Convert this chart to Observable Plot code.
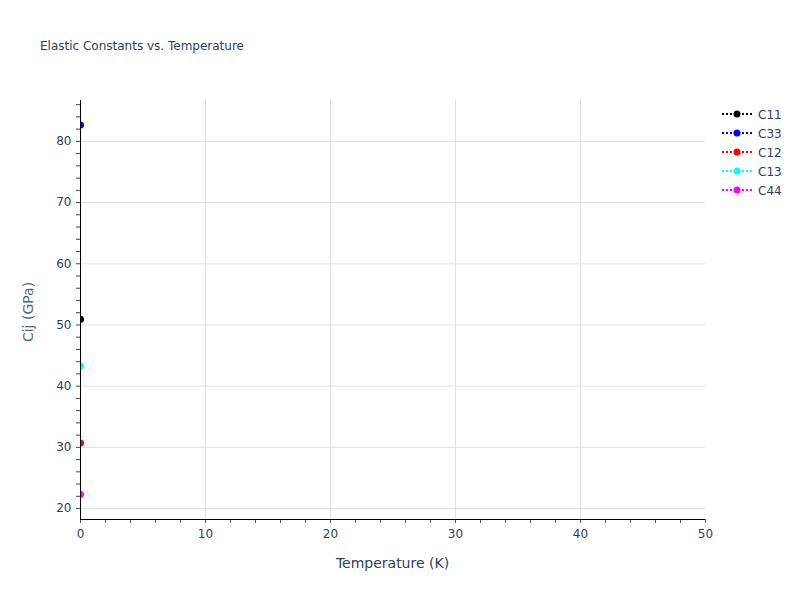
<!DOCTYPE html>
<html><head><meta charset="utf-8">
<script src="https://cdn.jsdelivr.net/npm/d3@7"></script>
<script src="https://cdn.jsdelivr.net/npm/@observablehq/plot@0.6"></script>
<style>body{margin:0;background:#fff;} #chart{width:800px;height:600px;}</style>
</head><body><div id="chart"></div>
<script>
const temperature = [0];
const seriesNames = ["C11", "C33", "C12", "C13", "C44"];
const seriesColors = ["#000000", "#0000ff", "#ff0000", "#00ffff", "#ff00ff"];
const C11 = [50.93];
const C33 = [82.66];
const C12 = [30.7];
const C13 = [43.31];
const C44 = [22.3];
const xTickLabels = [0, 10, 20, 30, 40, 50];
const yTickLabels = [20, 30, 40, 50, 60, 70, 80];

const seriesValues = [C11, C33, C12, C13, C44];
const data = seriesNames.flatMap((name, k) =>
  seriesValues[k].map((v, i) => ({series: name, T: temperature[i], Cij: v})));

const textColor = "#2a3f5f";
const fontFamily = "'DejaVu Sans', Verdana, sans-serif";
const xDomain = [0, 50];
const yDomain = [18.21, 86.68];
const xMinor = d3.range(0, 51, 2);
const yMinor = d3.range(20, 87, 2);

const plot = Plot.plot({
  width: 800, height: 600,
  marginLeft: 80, marginRight: 95, marginTop: 100, marginBottom: 81,
  style: {fontFamily, fontSize: "12px", color: textColor, background: "white"},
  x: {domain: xDomain},
  y: {domain: yDomain},
  color: {domain: seriesNames, range: seriesColors},
  marks: [
    Plot.gridX(xTickLabels.filter(t => t > 0 && t < 50), {stroke: "#e1e1e1", strokeOpacity: 1}),
    Plot.gridY(yTickLabels, {stroke: "#e1e1e1", strokeOpacity: 1}),
    Plot.axisX({ticks: xMinor, tickSize: 4, tickPadding: 6, stroke: "#555",
      tickFormat: d => xTickLabels.includes(d) ? String(d) : "", fill: textColor, label: null, fontSize: 12}),
    Plot.axisY({ticks: yMinor, tickSize: 4, tickPadding: 5, stroke: "#444",
      tickFormat: d => yTickLabels.includes(d) ? String(d) : "", fill: textColor, label: null, fontSize: 12}),
    Plot.line(data, {x: "T", y: "Cij", z: "series", stroke: "series", strokeDasharray: "2,3", strokeWidth: 2, clip: true}),
    Plot.dot(data, {x: "T", y: "Cij", fill: "series", r: 3.5, clip: true}),
    Plot.ruleX([xDomain[0]], {stroke: "#000", strokeWidth: 1}),
    Plot.ruleY([yDomain[0]], {stroke: "#000", strokeWidth: 1})
  ]
});
document.getElementById("chart").appendChild(plot);

const svg = d3.select(plot);
svg.append("text").attr("x", 40).attr("y", 49.5).attr("fill", textColor).attr("text-anchor", "start")
  .style("font-size", "12px").style("font-family", fontFamily)
  .text("Elastic Constants vs. Temperature");
svg.append("text").attr("x", 392.5).attr("y", 568).attr("text-anchor", "middle").attr("fill", textColor)
  .style("font-size", "14px").style("font-family", fontFamily)
  .text("Temperature (K)");
svg.append("text").attr("transform", "translate(33,312) rotate(-90)").attr("text-anchor", "middle").attr("fill", "#506784")
  .style("font-size", "14px").style("font-family", fontFamily)
  .text("Cij (GPa)");

const legend = svg.append("g");
seriesNames.forEach((name, i) => {
  const y = 114 + 19 * i;
  legend.append("line").attr("x1", 722).attr("x2", 752).attr("y1", y).attr("y2", y)
    .attr("stroke", seriesColors[i]).attr("stroke-width", 2).attr("stroke-dasharray", "2,2");
  legend.append("circle").attr("cx", 737).attr("cy", y).attr("r", 3.5).attr("fill", seriesColors[i]);
  legend.append("text").attr("x", 758).attr("y", y + 4.5).attr("fill", textColor).attr("text-anchor", "start")
    .style("font-size", "12px").style("font-family", fontFamily).text(name);
});
</script>
</body></html>
